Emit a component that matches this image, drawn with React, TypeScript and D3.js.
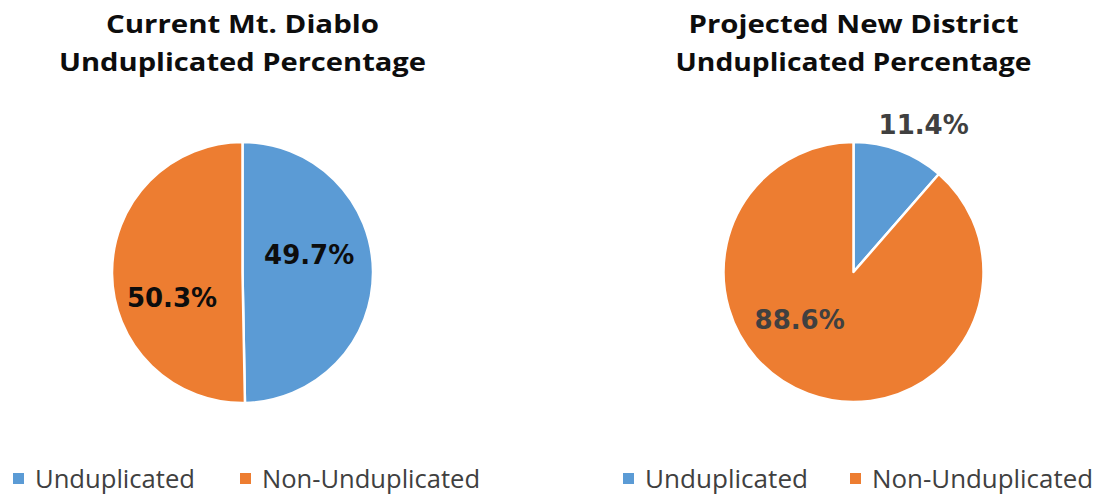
import React from "react";
import * as d3 from "d3";

const categories = ["Unduplicated", "Non-Unduplicated"];
const currentValues = [49.7, 50.3];
const projectedValues = [11.4, 88.6];
const currentTitle = ["Current Mt. Diablo", "Unduplicated Percentage"];
const projectedTitle = ["Projected New District", "Unduplicated Percentage"];

const COLORS = ["#5B9BD5", "#ED7D31"];

type ChartCfg = {
  values: number[];
  title: string[];
  cx: number;
  cy: number;
  r: number;
  titleLens: number[];
  labelPolar: { deg: number; rad: number }[];
  labelColor: string;
  legendX: number[];
  legendLens: number[];
};

const W = 1099;
const H = 497;

function PieChart({ cfg }: { cfg: ChartCfg }) {
  const pie = d3.pie<number>().sort(null).value((d) => d);
  const arcs = pie(cfg.values);
  const arcGen = d3.arc<d3.PieArcDatum<number>>().innerRadius(0).outerRadius(cfg.r);
  const fmt = d3.format(".1f");
  const color = d3.scaleOrdinal<string, string>().domain(categories).range(COLORS);
  return (
    <g>
      {cfg.title.map((t, i) => (
        <text
          key={i}
          x={cfg.cx}
          y={33 + i * 38}
          textAnchor="middle"
          fontFamily="'Open Sans', sans-serif"
          fontWeight={700}
          fontSize={25}
          fill="#0d0d0d"
          textLength={cfg.titleLens[i]}
          lengthAdjust="spacingAndGlyphs"
        >
          {t}
        </text>
      ))}
      <g transform={`translate(${cfg.cx},${cfg.cy})`}>
        {arcs.map((a, i) => (
          <path key={i} d={arcGen(a) || ""} fill={color(categories[i])} stroke="#fff" strokeWidth={2.5} strokeLinejoin="round" />
        ))}
        {arcs.map((a, i) => {
          const p = cfg.labelPolar[i];
          const ang = (p.deg * Math.PI) / 180;
          return (
            <text
              key={"l" + i}
              x={Math.sin(ang) * p.rad}
              y={-Math.cos(ang) * p.rad}
              textAnchor="middle"
              dominantBaseline="central"
              fontFamily="'DejaVu Sans', sans-serif"
              fontWeight={700}
              fontSize={26}
              fill={cfg.labelColor}
            >
              {fmt(a.data) + "%"}
            </text>
          );
        })}
      </g>
      {categories.map((c, i) => (
        <g key={"lg" + i}>
          <rect x={cfg.legendX[i] - 22} y={473} width={11} height={11} fill={color(c)} />
          <text
            x={cfg.legendX[i]}
            y={488}
            fontFamily="'Open Sans', sans-serif"
            fontSize={25}
            fill="#404040"
            textLength={cfg.legendLens[i]}
            lengthAdjust="spacingAndGlyphs"
          >
            {c}
          </text>
        </g>
      ))}
    </g>
  );
}

export default function App() {
  const left: ChartCfg = {
    values: currentValues,
    title: currentTitle,
    cx: 242.5,
    cy: 272.5,
    r: 130.5,
    titleLens: [273, 367],
    labelPolar: [
      { deg: 75, rad: 69 },
      { deg: 250, rad: 75 },
    ],
    labelColor: "#0d0d0d",
    legendX: [35, 262],
    legendLens: [160, 218],
  };
  const right: ChartCfg = {
    values: projectedValues,
    title: projectedTitle,
    cx: 853.5,
    cy: 272,
    r: 130,
    titleLens: [330, 356],
    labelPolar: [
      { deg: 25.5, rad: 163 },
      { deg: 228.4, rad: 72 },
    ],
    labelColor: "#404040",
    legendX: [645, 872],
    legendLens: [163, 221],
  };
  return (
    <div style={{ position: "absolute", left: 0, top: 0, width: W, height: H, background: "#fff" }}>
      <svg width={W} height={H} style={{ display: "block" }}>
        <rect width={W} height={H} fill="#fff" />
        <PieChart cfg={left} />
        <PieChart cfg={right} />
      </svg>
    </div>
  );
}
